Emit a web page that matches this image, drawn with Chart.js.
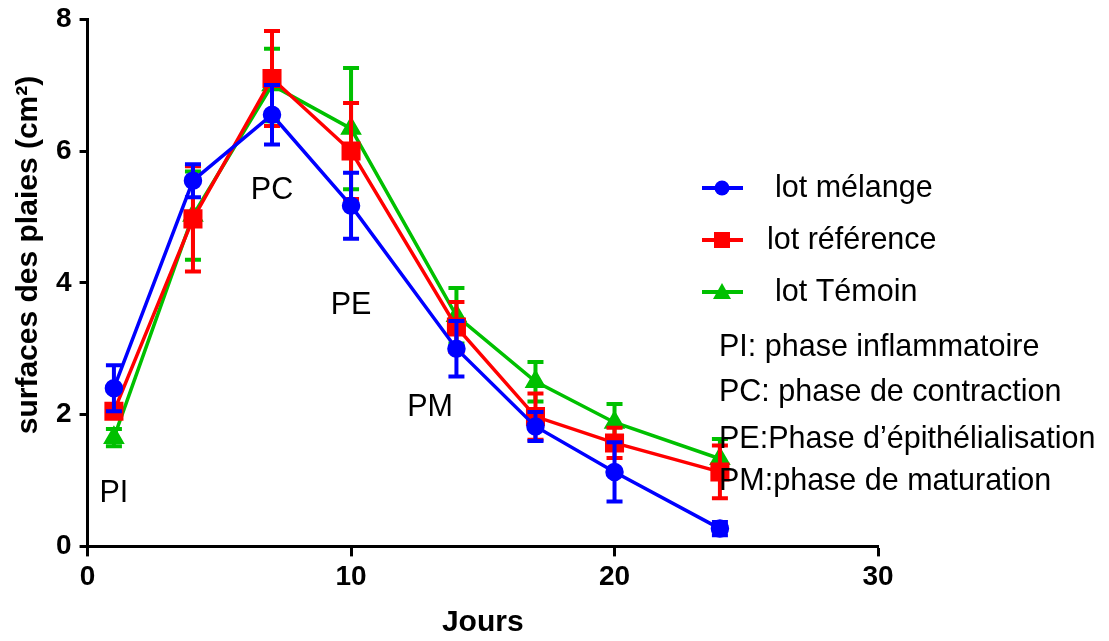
<!DOCTYPE html>
<html>
<head>
<meta charset="utf-8">
<script src="https://cdn.jsdelivr.net/npm/chart.js@4.4.1/dist/chart.umd.min.js"></script>
<style>
  html, body { margin: 0; padding: 0; background: #fff; }
  #wrap { width: 1109px; height: 641px; position: relative; }
</style>
</head>
<body>
<div id="wrap"><canvas id="chart"></canvas></div>
<script>
// jours de mesure
const jours = [1, 4, 7, 10, 14, 17, 20, 24]

// surfaces moyennes (cm2) et erreurs
const melange = [2.4, 5.55, 6.55, 5.17, 3.0, 1.82, 1.13, 0.27]
const melangeErr = [0.35, 0.25, 0.45, 0.5, 0.42, 0.22, 0.45, 0.1]
const reference = [2.05, 4.97, 7.1, 6.0, 3.33, 1.97, 1.57, 1.13]
const referenceErr = [0.08, 0.8, 0.72, 0.73, 0.38, 0.35, 0.23, 0.4]
const temoin = [1.65, 5.02, 7.0, 6.34, 3.5, 2.5, 1.88, 1.33]
const temoinErr = [0.13, 0.67, 0.55, 0.92, 0.42, 0.3, 0.28, 0.3]

const yTicks = [0, 2, 4, 6, 8]
const xTicks = [0, 10, 20, 30]

const seriesNames = ['lot mélange', 'lot référence', 'lot Témoin']
const phaseNotes = ['PI: phase inflammatoire', 'PC: phase de contraction', 'PE:Phase d\u2019épithélialisation', 'PM:phase de maturation']
// etiquettes de phase sur le graphe (en unites des axes)
const phaseTags = [
    {text: 'PI', x: 1, y: 0.8},
    {text: 'PC', x: 7, y: 5.4},
    {text: 'PE', x: 10, y: 3.65},
    {text: 'PM', x: 13, y: 2.1}
]

const BLUE = '#0000FF'
const RED = '#FF0000'
const GREEN = '#00C000'
const FONT = '"Liberation Sans", Arial, sans-serif'

function pts(vals) {
    return vals.map((v, i) => ({x: jours[i], y: v}))
}

// barres d'erreur, dessinees juste apres chaque serie
const errorBars = {
    id: 'errorBars',
    afterDatasetDraw(chart, args) {
        const ds = chart.data.datasets[args.index]
        if (!ds.err) return
        const ctx = chart.ctx
        const xs = chart.scales.x, ys = chart.scales.y
        ctx.save()
        ctx.strokeStyle = ds.borderColor
        ctx.lineWidth = 4
        ds.data.forEach((p, i) => {
            const px = xs.getPixelForValue(p.x)
            const top = ys.getPixelForValue(p.y + ds.err[i])
            const bot = ys.getPixelForValue(p.y - ds.err[i])
            ctx.beginPath()
            ctx.moveTo(px, top); ctx.lineTo(px, bot)
            ctx.moveTo(px - 8, top); ctx.lineTo(px + 8, top)
            ctx.moveTo(px - 8, bot); ctx.lineTo(px + 8, bot)
            ctx.stroke()
        })
        ctx.restore()
    }
}

function marker(ctx, style, x, y, color) {
    ctx.fillStyle = color
    ctx.beginPath()
    if (style == 'circle') {
        ctx.arc(x, y, 7.5, 0, Math.PI * 2)
    } else if (style == 'rect') {
        ctx.rect(x - 8, y - 8, 16, 16)
    } else {
        ctx.moveTo(x, y - 9); ctx.lineTo(x + 9, y + 7); ctx.lineTo(x - 9, y + 7); ctx.closePath()
    }
    ctx.fill()
}

// legende + textes
const notes = {
    id: 'notes',
    afterDraw(chart) {
        const ctx = chart.ctx
        const xs = chart.scales.x, ys = chart.scales.y
        ctx.save()
        // titre axe y (un peu au-dessus du centre, comme l'original)
        ctx.save()
        ctx.translate(29, 255)
        ctx.rotate(-Math.PI / 2)
        ctx.font = 'bold 30px ' + FONT
        ctx.fillStyle = '#000'
        ctx.textAlign = 'center'
        ctx.textBaseline = 'middle'
        ctx.fillText('surfaces des plaies (cm²)', 0, 0)
        ctx.restore()

        ctx.font = '30.5px ' + FONT
        ctx.fillStyle = '#000'
        ctx.textBaseline = 'middle'
        ctx.textAlign = 'center'
        phaseTags.forEach(t => {
            ctx.fillText(t.text, xs.getPixelForValue(t.x), ys.getPixelForValue(t.y))
        })

        const legY = [188, 240, 292]
        const textX = [775, 767, 775]
        chart.data.datasets.forEach((ds, i) => {
            ctx.strokeStyle = ds.borderColor
            ctx.lineWidth = 4
            ctx.beginPath()
            ctx.moveTo(702, legY[i]); ctx.lineTo(743, legY[i])
            ctx.stroke()
            marker(ctx, ds.pointStyle, 722, legY[i], ds.borderColor)
            ctx.fillStyle = '#000'
            ctx.textAlign = 'left'
            ctx.fillText(seriesNames[i], textX[i], legY[i] + 1)
        })
        const noteY = [348, 393, 440, 482]
        phaseNotes.forEach((n, i) => {
            ctx.fillText(n, 719, noteY[i])
        })
        ctx.restore()
    }
}

const tickFont = {family: FONT, size: 28, weight: 'bold'}

new Chart(document.getElementById('chart'), {
    type: 'line',
    data: {
        datasets: [
            {label: seriesNames[0], data: pts(melange), err: melangeErr, borderColor: BLUE, backgroundColor: BLUE,
                pointStyle: 'circle', pointRadius: 7.5, borderWidth: 3.5},
            {label: seriesNames[1], data: pts(reference), err: referenceErr, borderColor: RED, backgroundColor: RED,
                pointStyle: 'rect', pointRadius: 11, borderWidth: 3.5},
            {label: seriesNames[2], data: pts(temoin), err: temoinErr, borderColor: GREEN, backgroundColor: GREEN,
                pointStyle: 'triangle', pointRadius: 9, borderWidth: 3.5}
        ]
    },
    options: {
        responsive: true,
        maintainAspectRatio: false,
        animation: false,
        layout: {padding: {left: 48, right: 231, top: 0, bottom: 0}},
        plugins: {legend: {display: false}, tooltip: {enabled: false}},
        scales: {
            x: {
                type: 'linear', min: 0, max: 30,
                afterBuildTicks: s => { s.ticks = xTicks.map(v => ({value: v})) },
                ticks: {color: '#000', font: tickFont, padding: 4},
                grid: {display: true, drawOnChartArea: false, drawTicks: true, tickLength: 10, tickWidth: 3, tickColor: '#000'},
                border: {color: '#000', width: 3},
                title: {display: true, text: 'Jours', color: '#000', font: {family: FONT, size: 30, weight: 'bold'}, padding: {top: 7, bottom: 0}}
            },
            y: {
                type: 'linear', min: 0, max: 8,
                afterBuildTicks: s => { s.ticks = yTicks.map(v => ({value: v})) },
                ticks: {color: '#000', font: {family: FONT, size: 28, weight: 'bold', lineHeight: 0.8}, padding: 8},
                grid: {display: true, drawOnChartArea: false, drawTicks: true, tickLength: 8, tickWidth: 3, tickColor: '#000'},
                border: {color: '#000', width: 3}
            }
        }
    },
    plugins: [errorBars, notes]
})
</script>
</body>
</html>
